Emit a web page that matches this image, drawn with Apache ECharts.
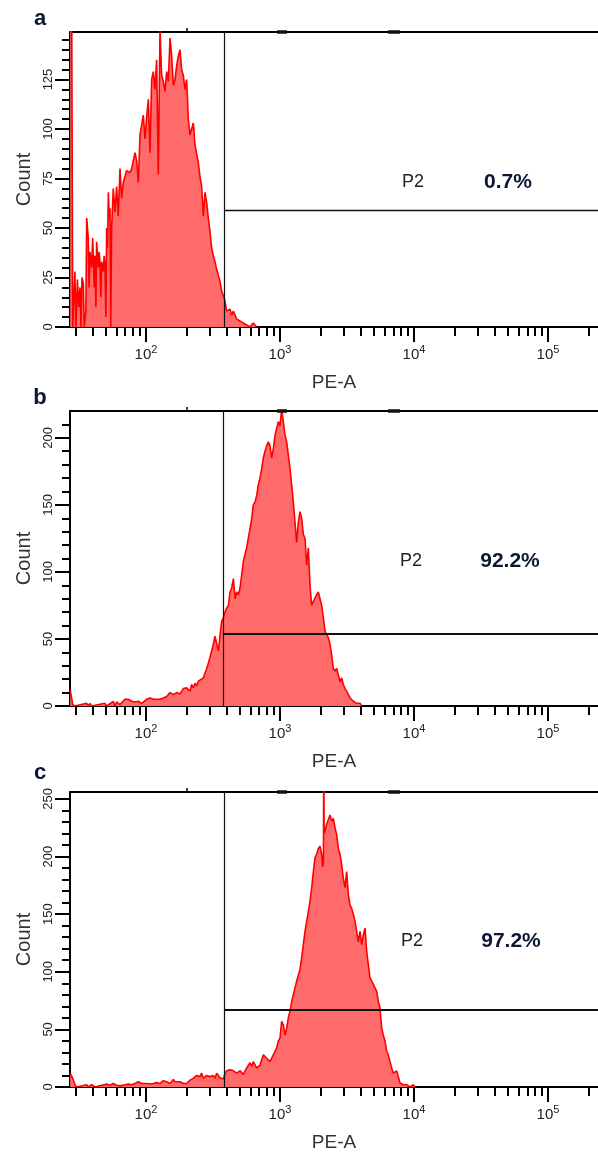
<!DOCTYPE html>
<html>
<head>
<meta charset="utf-8">
<script src="https://cdn.jsdelivr.net/npm/echarts@6/dist/echarts.min.js"></script>
<style>html,body{margin:0;padding:0;background:#fff}#c{width:598px;height:1154px}</style>
</head>
<body>
<div id="c"></div>
<script>
// ---------- data ----------
const panelLetters = ['a', 'b', 'c'];
const xMin = 27.1, xMax = 236000;
const xMajorTicks = [100, 1000, 10000, 100000];
const xMinorTicks = [30, 40, 50, 60, 70, 80, 90, 200, 300, 400, 500, 600, 700, 800, 900,
  2000, 3000, 4000, 5000, 6000, 7000, 8000, 9000, 20000, 30000, 40000, 50000, 60000, 70000, 80000, 90000, 200000];
const xTopTicks = [200];
const topMarks = [[950, 1127], [6400, 7870]];
const yMax = [149, 220, 256];
const yTickLabels = [[0, 25, 50, 75, 100, 125], [0, 50, 100, 150, 200], [0, 50, 100, 150, 200, 250]];
const yMinorStep = [5, 10, 10];
const gateLow = [382, 374, 382];
const gateMarker = [59, 54, 67];
const gateName = ['P2', 'P2', 'P2'];
const gatePct = ['0.7%', '92.2%', '97.2%'];

const aPE = [27.2, 28.4, 29.5, 30.0, 30.8, 31.5, 32.2, 32.7, 33.3, 34.1, 34.6, 35.6, 36.1, 37.1, 37.6, 38.2, 39.3, 40.0, 40.5, 41.1,
  41.6, 42.3, 42.8, 44.1, 44.7, 45.4, 46.0, 46.7, 48.0, 48.7, 49.4, 50.2, 50.9, 51.6, 52.4, 53.2, 53.9, 54.6, 55.4, 57.0,
  58.7, 60.4, 62.1, 64.0, 65.8, 67.7, 69.7, 71.7, 73.8, 76.0, 78.2, 80.4, 82.8, 85.2, 87.7, 90.2, 92.8, 95.5, 98.3, 101.2,
  104.1, 107.1, 110.2, 113.4, 116.7, 120.1, 123.6, 127.2, 130.9, 134.7, 138.7, 142.7, 146.8, 151.1, 155.4, 160.0, 164.6, 169.4, 174.3, 179.4,
  184.6, 190.0, 195.4, 201.1, 207.0, 213.0, 219.1, 225.5, 232.1, 238.8, 245.7, 252.9, 260.2, 267.8, 275.6, 283.5, 291.8, 300.3, 309.0, 318.0,
  327.2, 336.8, 346.6, 356.6, 367.0, 377.7, 388.7, 400.0, 411.6, 423.6, 435.9, 448.6, 461.7, 475.1, 503, 532, 564, 597, 632, 670];
const aCount = [400, 0, 28, 0, 24, 10, 20, 0, 25, 22, 0, 8, 55, 45, 20, 38, 30, 45, 35, 20,
  36, 10, 43, 30, 38, 32, 15, 33, 28, 36, 32, 5, 50, 40, 68, 55, 60, 0, 50, 70,
  58, 71, 56, 80, 65, 73, 72, 79, 80, 78, 80, 84, 88, 84, 73, 97, 96, 107, 95, 106,
  115, 88, 125, 129, 120, 135, 77, 150, 127, 124, 119, 129, 124, 146, 137, 122, 125, 132, 137, 140,
  130, 127, 120, 125, 105, 97, 98, 103, 92, 93, 83, 76, 71, 56, 68, 63, 55, 48, 40, 36,
  33, 29, 28, 23, 18, 16, 13, 8, 8, 9, 6, 8, 6, 4, 3, 2, 1, 0, 2, 0];

const bPE = [27.2, 27.6, 28.4, 29.5, 36.1, 37.1, 38.2, 39.3, 49.4, 50.9, 57.0, 58.7, 60.4, 64.0, 65.8, 69.7, 73.8, 78.2, 82.8, 87.7,
  92.8, 101.2, 107.1, 113.4, 120.1, 127.2, 134.7, 142.7, 151.1, 160, 169.4, 179.4, 190, 201.1, 213, 219.1, 225.5, 232.1, 238.8, 245.7,
  253, 268, 284, 300, 318, 327, 337, 347, 357, 367, 378, 389, 400, 412, 424, 436, 449, 462, 475, 489,
  503, 518, 533, 548, 564, 580, 597, 615, 632, 651, 670, 689, 709, 730, 751, 773, 795, 818, 842, 867,
  892, 918, 944, 972, 1000, 1029, 1059, 1090, 1121, 1154, 1188, 1222, 1257, 1294, 1332, 1370, 1410, 1451, 1493, 1537,
  1581, 1627, 1675, 1723, 1774, 1825, 1878, 1932, 1988, 2046, 2106, 2167, 2230, 2295, 2361, 2430, 2500, 2573, 2648, 2725,
  2804, 2885, 2969, 3055, 3144, 3236, 3330, 3526, 3734, 3954, 4070];
const bCount = [12, 12, 1, 0, 2, 0, 2, 0, 2, 0, 3.5, 0, 3, 1, 2, 5, 5, 3.5, 3, 3.5,
  2, 5, 6, 5, 5, 5, 6, 7, 10, 8.5, 10, 9, 13, 13.5, 11, 16, 13.5, 17, 15, 18.5,
  18.5, 21, 28, 36, 46, 52, 51, 41, 53, 63, 66, 70, 73, 75, 85, 88, 95, 80, 85, 83,
  88, 98, 108, 113, 118, 125, 132, 140, 150, 152, 157, 165, 170, 177, 185, 190, 194, 197, 194, 185,
  192, 202, 207, 212, 209, 221, 212, 202, 197, 187, 177, 165, 152, 137, 122, 137, 145, 140, 128, 125,
  105, 118, 90, 75, 78, 78, 83, 85, 80, 75, 66, 56, 53, 51, 46, 38, 28, 26, 28, 23,
  18, 21, 16, 13, 11, 8.5, 6, 3.5, 2, 2, 0];

const cPE = [27.2, 27.6, 28.4, 29.5, 30.4, 36.1, 37.1, 39.3, 41.6, 50.9, 53.9, 57.0, 60.4, 64.0, 69.7, 73.8, 78.2, 82.8, 87.7, 90.2,
  92.8, 95.5, 101.2, 107.1, 113.4, 120.1, 127.2, 134.7, 142.7, 151.1, 160, 164.6, 169.4, 179.4, 190, 201.1, 213, 225.5, 238.8, 252.9,
  260.2, 267.8, 283.5, 300.3, 318, 327.2, 336.8, 356.6, 377.7, 388.7, 400, 424, 449, 475, 503, 533, 564, 597, 615, 632,
  670, 709, 751, 795, 842, 892, 918, 944, 972, 1000, 1029, 1059, 1090, 1121, 1154, 1188, 1222, 1257, 1294, 1332,
  1370, 1410, 1451, 1493, 1537, 1581, 1627, 1675, 1723, 1774, 1825, 1878, 1932, 1988, 2046, 2082, 2110, 2120, 2135, 2167,
  2230, 2295, 2361, 2430, 2500, 2573, 2648, 2725, 2804, 2885, 2969, 3055, 3144, 3236, 3330, 3426, 3526, 3628, 3734, 3842,
  3954, 4070, 4187, 4309, 4435, 4563, 4695, 4832, 4972, 5117, 5265, 5418, 5576, 5737, 5904, 6075, 6252, 6433, 6620, 6812,
  7010, 7213, 7423, 7638, 7860, 8325, 8816, 9336, 9886, 10170];
const cCount = [12, 12, 7.5, 2, 0, 2, 0, 2, 0, 2.5, 1.5, 3, 1.5, 1, 2, 2.5, 2, 3, 4.6, 6,
  3, 4.6, 3, 2.6, 3, 3.8, 3, 5.5, 4.6, 3, 6.6, 4.6, 6, 4.6, 3, 3, 6, 7.5, 10, 9,
  12, 7.5, 10, 9, 10, 7.5, 12, 8, 7, 12, 14, 15, 14, 12, 14, 11, 16.5, 21, 18, 22,
  16.5, 19, 28, 25, 22, 28, 31, 34, 40, 42.5, 57, 54, 45, 51, 60, 66, 74, 80, 86, 92,
  97, 102, 112, 123.5, 135, 144, 152, 161, 173, 187, 199, 202, 207, 209, 202, 191, 195, 300, 220, 222,
  228, 232, 236, 230.5, 233, 225, 219, 207, 202, 193, 181, 173, 187, 167, 158, 155, 150, 144, 135, 126,
  135, 123.5, 132, 138, 118, 106, 95, 92, 89, 86, 83, 74, 68.5, 51, 45, 40, 31, 28, 22, 16.5,
  12, 11, 14, 9, 3.5, 2, 2, 0, 2, 0];

const histPE = [aPE, bPE, cPE];
const histCount = [aCount, bCount, cCount];

// ---------- layout / style ----------
const FONT = '"Liberation Sans", Arial, sans-serif';
const tops = [32, 411, 792];
const plotH = 295;
const pctPos = [[413, 508, 182], [411, 510, 561], [412, 511, 941]];
const letterY = [19, 398, 773];
const gateLineW = [1.3, 2, 2];

const grid = [], xAxis = [], yAxis = [], series = [], graphic = [];

for (let i = 0; i < 3; i++) {
  grid.push({ left: 70, right: 0, top: tops[i], height: plotH });
  const xi = xAxis.length;
  xAxis.push({
    type: 'log', logBase: 10, gridIndex: i, min: xMin, max: xMax, position: 'bottom',
    axisLine: { show: true, onZero: false, lineStyle: { color: '#000', width: 2 } },
    axisTick: { show: true, customValues: xMajorTicks, length: 15, lineStyle: { color: '#000', width: 2 } },
    axisLabel: {
      show: true, customValues: xMajorTicks, margin: 17,
      formatter: v => '{b|10}{s|' + Math.round(Math.log10(v)) + '}',
      rich: {
        b: { fontFamily: FONT, fontSize: 15, color: '#222', lineHeight: 22 },
        s: { fontFamily: FONT, fontSize: 11, color: '#222', lineHeight: 7, verticalAlign: 'top' }
      }
    },
    splitLine: { show: false }, minorTick: { show: false },
    name: 'PE-A', nameLocation: 'middle', nameGap: 46,
    nameTextStyle: { fontFamily: FONT, fontSize: 19, color: '#333' }
  });
  xAxis.push({
    type: 'log', logBase: 10, gridIndex: i, min: xMin, max: xMax, position: 'bottom',
    axisLine: { show: false },
    axisTick: { show: true, customValues: xMinorTicks, length: 9, lineStyle: { color: '#000', width: 2 } },
    axisLabel: { show: false }, splitLine: { show: false }
  });
  xAxis.push({
    type: 'log', logBase: 10, gridIndex: i, min: xMin, max: xMax, position: 'top',
    axisLine: { show: true, onZero: false, lineStyle: { color: '#000', width: 2 } },
    axisTick: { show: true, customValues: xTopTicks, length: 4, lineStyle: { color: '#000', width: 1.5 } },
    axisLabel: { show: false }, splitLine: { show: false }
  });

  const yi = yAxis.length;
  const minors = [];
  for (let v = yMinorStep[i]; v < yMax[i]; v += yMinorStep[i]) if (yTickLabels[i].indexOf(v) < 0) minors.push(v);
  yAxis.push({
    type: 'value', gridIndex: i, min: 0, max: yMax[i], position: 'left',
    axisLine: { show: true, onZero: false, lineStyle: { color: '#000', width: 2 } },
    axisTick: { show: true, customValues: yTickLabels[i], length: 15, lineStyle: { color: '#000', width: 2 } },
    axisLabel: { show: true, customValues: yTickLabels[i], rotate: 90, margin: 15, fontFamily: FONT, fontSize: 13, color: '#222' },
    splitLine: { show: false },
    name: 'Count', nameLocation: 'middle', nameRotate: 90, nameGap: 35,
    nameTextStyle: { fontFamily: FONT, fontSize: 20, color: '#333' }
  });
  yAxis.push({
    type: 'value', gridIndex: i, min: 0, max: yMax[i], position: 'left',
    axisLine: { show: false },
    axisTick: { show: true, customValues: minors, length: 8, lineStyle: { color: '#000', width: 2 } },
    axisLabel: { show: false }, splitLine: { show: false }
  });

  const markData = [
    [{ coord: [gateLow[i], 0] }, { coord: [gateLow[i], yMax[i]] }],
    [{ coord: [gateLow[i], gateMarker[i]], lineStyle: { width: gateLineW[i], color: '#111', type: 'solid' } }, { coord: [xMax, gateMarker[i]] }]
  ];
  topMarks.forEach(m => markData.push([
    { coord: [m[0], yMax[i]], lineStyle: { width: 3.5, color: '#111', type: 'solid' } }, { coord: [m[1], yMax[i]] }
  ]));

  series.push({
    type: 'line', xAxisIndex: xi, yAxisIndex: yi,
    data: histPE[i].map((v, j) => [v, histCount[i][j]]),
    symbol: 'none', showSymbol: false, clip: true, animation: false,
    lineStyle: { color: '#ff0000', width: 1.6 },
    areaStyle: { color: '#ff6b6b', opacity: 1, origin: 'start' },
    markLine: {
      silent: true, symbol: ['none', 'none'], animation: false, label: { show: false },
      lineStyle: { color: '#111', type: 'solid', width: 1.2 },
      data: markData
    }
  });

  graphic.push({ type: 'text', x: 40, y: letterY[i], style: { text: panelLetters[i], font: 'bold 22px ' + FONT, fill: '#0b1733', align: 'center', verticalAlign: 'middle' } });
  graphic.push({ type: 'text', x: pctPos[i][0], y: pctPos[i][2], style: { text: gateName[i], font: '18px ' + FONT, fill: '#222', align: 'center', verticalAlign: 'middle' } });
  graphic.push({ type: 'text', x: pctPos[i][1], y: pctPos[i][2], style: { text: gatePct[i], font: 'bold 21px ' + FONT, fill: '#0b1733', align: 'center', verticalAlign: 'middle' } });
}

const chart = echarts.init(document.getElementById('c'));
chart.setOption({ backgroundColor: '#fff', animation: false, grid, xAxis, yAxis, series, graphic });
</script>
</body>
</html>
